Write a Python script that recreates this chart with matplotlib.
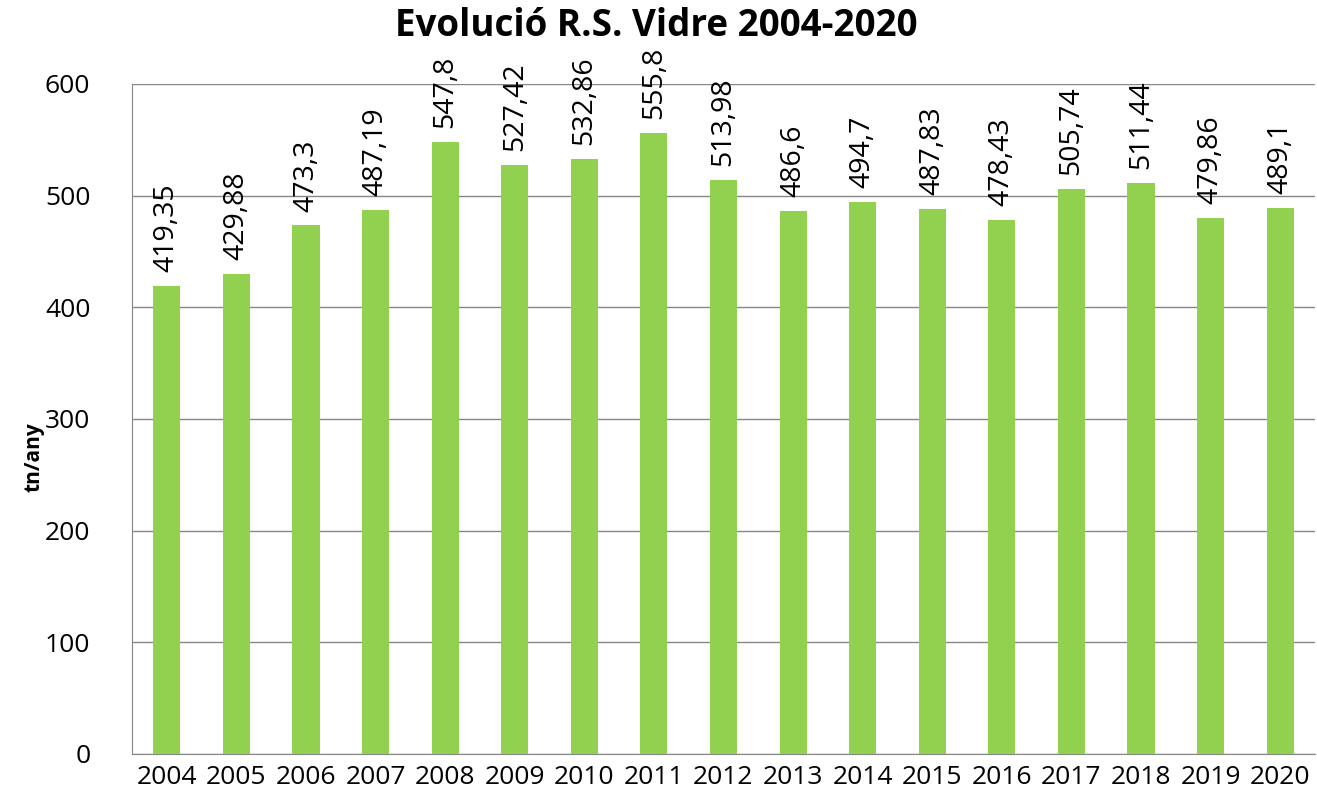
import matplotlib
matplotlib.use("Agg")
import matplotlib.pyplot as plt

years = ["2004", "2005", "2006", "2007", "2008", "2009", "2010", "2011", "2012",
         "2013", "2014", "2015", "2016", "2017", "2018", "2019", "2020"]
values = [419.35, 429.88, 473.3, 487.19, 547.8, 527.42, 532.86, 555.8, 513.98,
          486.6, 494.7, 487.83, 478.43, 505.74, 511.44, 479.86, 489.1]
labels = ["419,35", "429,88", "473,3", "487,19", "547,8", "527,42", "532,86", "555,8", "513,98",
          "486,6", "494,7", "487,83", "478,43", "505,74", "511,44", "479,86", "489,1"]
yticks = [0, 100, 200, 300, 400, 500, 600]

plt.rcParams['font.family'] = ['Open Sans', 'DejaVu Sans']

fig = plt.figure(figsize=(13.17, 8.02), dpi=100)
ax = fig.add_axes([0.1002, 0.0599, 0.8983, 0.8354])

x = list(range(len(years)))
ax.bar(x, values, width=0.39, color="#92D050", zorder=3)
for xi, v, lab in zip(x, values, labels):
    ax.annotate(lab, (xi, v), xytext=(0, 10), textcoords="offset points",
                rotation=90, ha="center", va="bottom", fontsize=20.5, zorder=4)

ax.set_xlim(-0.5, len(years) - 0.5)
ax.set_ylim(0, 600)
ax.set_yticks(yticks)
ax.set_xticks(x)
ax.set_xticklabels(years, fontsize=19)
ax.tick_params(axis="y", labelsize=19, length=0, pad=30)
ax.tick_params(axis="x", length=0, pad=8)
ax.yaxis.grid(True, color="#868686", linewidth=1, zorder=0)
for s in ["top", "right"]:
    ax.spines[s].set_visible(False)
ax.spines["left"].set_color("#868686")
ax.spines["bottom"].set_color("#868686")
fig.text(0.026, 0.43, "tn/any", rotation=90, fontsize=15, fontweight="bold",
         ha="center", va="center")
fig.text(0.498, 0.967, "Evolució R.S. Vidre 2004-2020", fontsize=26.5, fontweight="bold",
         ha="center", va="center")

fig.savefig("out.png", dpi=100)
